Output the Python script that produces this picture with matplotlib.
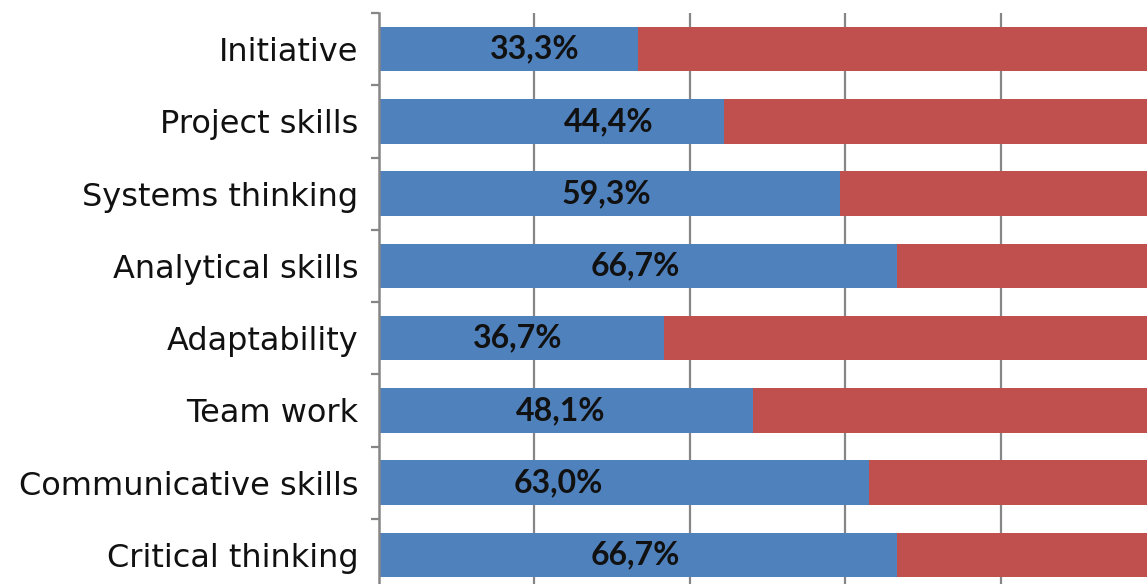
import matplotlib
matplotlib.use("Agg")
import matplotlib.pyplot as plt
import numpy as np

categories = ["Initiative", "Project skills", "Systems thinking", "Analytical skills",
              "Adaptability", "Team work", "Communicative skills", "Critical thinking"]
yes_values = [33.3, 44.4, 59.3, 66.7, 36.7, 48.1, 63.0, 66.7]
no_values = [100 - v for v in yes_values]
value_labels = ["33,3%", "44,4%", "59,3%", "66,7%", "36,7%", "48,1%", "63,0%", "66,7%"]
# horizontal anchor of each value label (in % units)
label_anchor = [20.1, 29.5, 29.2, 33.0, 17.8, 23.4, 23.1, 33.0]

blue = "#4F81BD"
red = "#C0504D"
grid_c = "#868686"

fig = plt.figure(figsize=(11.47, 5.84), dpi=100)
W, H = 1147, 584
left_px, right_px, top_px, bot_px = 379, 1156, 13, 591
ax = fig.add_axes([left_px / W, 1 - bot_px / H, (right_px - left_px) / W, (bot_px - top_px) / H])

y = np.arange(len(categories))
ax.barh(y, yes_values, height=0.613, color=blue, zorder=3)
ax.barh(y, no_values, left=yes_values, height=0.613, color=red, zorder=3)

for yi, lab, xa in zip(y, value_labels, label_anchor):
    ax.text(xa, yi, lab, ha="center", va="center", fontsize=23, fontweight="bold",
            family="Lato", color="#111111", zorder=4)

ax.set_xlim(0, 100)
ax.set_ylim(len(categories) - 0.5, -0.5)
ax.set_xticks([20, 40, 60, 80, 100])
ax.xaxis.grid(True, color=grid_c, linewidth=1.6, zorder=1)
ax.tick_params(axis="x", bottom=False, labelbottom=False)

ax.set_yticks(y)
ax.set_yticklabels(categories, fontsize=23, family="DejaVu Sans", color="#111111")
ax.set_yticks(np.arange(len(categories) + 1) - 0.5, minor=True)
ax.tick_params(axis="y", which="major", length=0, pad=15)
ax.tick_params(axis="y", which="minor", length=6, width=1.6, color=grid_c)

for s in ["top", "right", "bottom"]:
    ax.spines[s].set_visible(False)
ax.spines["left"].set_color(grid_c)
ax.spines["left"].set_linewidth(1.8)
ax.spines["left"].set_zorder(5)

fig.savefig("out.png", dpi=100)
